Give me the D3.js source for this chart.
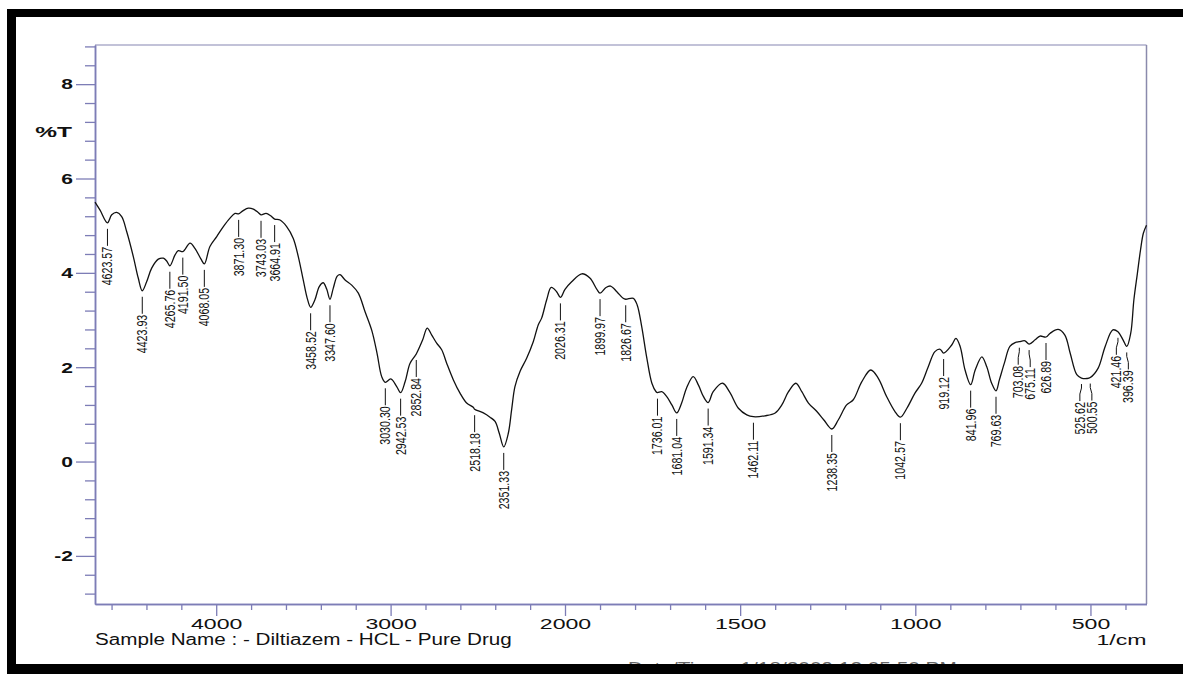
<!DOCTYPE html>
<html>
<head>
<meta charset="utf-8">
<script src="https://cdn.jsdelivr.net/npm/d3@7"></script>
<style>
  html, body { margin: 0; padding: 0; background: #fff; }
  svg { display: block; }
  text { font-family: "Liberation Sans", Arial, Helvetica, sans-serif; }
</style>
</head>
<body>
<svg id="chart" width="1183" height="674"></svg>
<script>
// FTIR spectrum of Diltiazem HCl (pure drug): wavenumber (1/cm) vs %T
const wavenumber = [
  4695, 4666, 4623.57, 4599, 4571, 4542, 4513, 4475, 4447, 4423.93,
  4399, 4370, 4332, 4303, 4284, 4265.76, 4236, 4217, 4191.50, 4150,
  4122, 4087, 4068.05, 4036, 3997, 3959, 3921, 3892, 3871.30, 3845,
  3816, 3787, 3759, 3743.03, 3714, 3688, 3664.91, 3634, 3596, 3558,
  3529, 3501, 3478, 3458.52, 3434, 3409, 3386, 3366, 3347.60, 3329,
  3306, 3290, 3261, 3223, 3185, 3147, 3108, 3078, 3051, 3030.30,
  2999, 2965, 2942.53, 2917, 2889, 2860, 2852.84, 2816, 2790, 2764,
  2736, 2707, 2678, 2640, 2602, 2564, 2526, 2518.18, 2468, 2430,
  2401, 2377, 2351.33, 2325, 2306, 2287, 2258, 2220, 2182, 2153,
  2134, 2105, 2079, 2048, 2026.31, 2000, 1981, 1952, 1929, 1909,
  1899.97, 1883, 1870, 1852, 1834, 1826.67, 1805, 1794, 1781, 1767,
  1752, 1740, 1736.01, 1724, 1710, 1695, 1681.04, 1667, 1653, 1634,
  1619, 1605, 1591.34, 1577, 1550, 1529, 1505, 1481, 1462.11, 1429,
  1400, 1381, 1362, 1341, 1324, 1305, 1281, 1261, 1238.35, 1220,
  1196, 1177, 1153, 1127, 1106, 1082, 1058, 1042.57, 1024, 1001,
  982, 963, 944, 929, 919.12, 896, 884, 872, 858, 841.96,
  829, 810, 796, 782, 769.63, 760, 746, 730, 715, 703.08,
  687, 675.11, 658, 644, 626.89, 615, 592, 573, 558, 539,
  525.62, 510, 500.55, 478, 458, 436, 421.46, 407, 396.39, 385,
  376, 366, 357, 349, 340
];
const transmittance = [
  5.50, 5.33, 5.06, 5.23, 5.28, 5.19, 4.87, 4.34, 3.89, 3.62,
  3.81, 4.10, 4.29, 4.31, 4.25, 4.15, 4.38, 4.47, 4.45, 4.63,
  4.52, 4.29, 4.19, 4.56, 4.77, 4.98, 5.16, 5.26, 5.25, 5.32,
  5.37, 5.35, 5.28, 5.23, 5.26, 5.21, 5.14, 5.12, 4.98, 4.73,
  4.34, 3.85, 3.46, 3.27, 3.43, 3.71, 3.79, 3.65, 3.44, 3.67,
  3.93, 3.96, 3.85, 3.74, 3.57, 3.18, 2.78, 2.30, 1.80, 1.68,
  1.75, 1.59, 1.46, 1.69, 2.08, 2.24, 2.28, 2.58, 2.83, 2.68,
  2.51, 2.37, 2.08, 1.73, 1.45, 1.24, 1.15, 1.11, 1.03, 0.94,
  0.85, 0.60, 0.31, 0.60, 1.10, 1.59, 1.91, 2.19, 2.54, 2.90,
  3.04, 3.43, 3.69, 3.60, 3.48, 3.65, 3.81, 3.98, 3.89, 3.65,
  3.57, 3.69, 3.72, 3.60, 3.46, 3.44, 3.46, 3.32, 2.86, 2.22,
  1.66, 1.48, 1.46, 1.48, 1.38, 1.20, 1.03, 1.24, 1.56, 1.80,
  1.62, 1.38, 1.25, 1.48, 1.66, 1.46, 1.13, 0.99, 0.95, 0.97,
  1.03, 1.20, 1.48, 1.66, 1.48, 1.24, 1.06, 0.88, 0.69, 0.88,
  1.20, 1.31, 1.69, 1.94, 1.77, 1.38, 1.06, 0.94, 1.13, 1.45,
  1.66, 2.01, 2.33, 2.38, 2.30, 2.47, 2.61, 2.44, 1.94, 1.63,
  1.94, 2.22, 2.01, 1.66, 1.50, 1.73, 2.08, 2.44, 2.52, 2.54,
  2.56, 2.49, 2.58, 2.66, 2.64, 2.72, 2.80, 2.68, 2.30, 1.84,
  1.77, 1.76, 1.78, 1.98, 2.44, 2.79, 2.75, 2.58, 2.44, 2.72,
  3.43, 3.99, 4.49, 4.84, 5.01
];

// Annotated peak positions (1/cm)
const peakWavenumbers = [
  4623.57, 4423.93, 4265.76, 4191.50, 4068.05, 3871.30, 3743.03, 3664.91,
  3458.52, 3347.60, 3030.30, 2942.53, 2852.84, 2518.18, 2351.33, 2026.31,
  1899.97, 1826.67, 1736.01, 1681.04, 1591.34, 1462.11, 1238.35, 1042.57,
  919.12, 841.96, 769.63, 703.08, 675.11, 626.89, 525.62, 500.55,
  421.46, 396.39
];

// Axis ticks
const xMajorTicks = [4000, 3000, 2000, 1500, 1000, 500];
const xMinorTicks = [4600, 4400, 4200, 3800, 3600, 3400, 3200, 2800, 2600, 2400, 2200,
                     1900, 1800, 1700, 1600, 1400, 1300, 1200, 1100, 900, 800, 700, 600, 400];
const yMajorTicks = [-2, 0, 2, 4, 6, 8];
const yMinorTicks = [-2.8, -2.4, -1.6, -1.2, -0.8, -0.4, 0.4, 0.8, 1.2, 1.6, 2.4, 2.8, 3.2, 3.6,
                     4.4, 4.8, 5.2, 5.6, 6.4, 6.8, 7.2, 7.6, 8.4, 8.8];

const sampleName = "Sample Name : - Diltiazem - HCL - Pure Drug";
const xUnit = "1/cm";
const yUnit = "%T";
const stampText = "Date/Time : 1/18/2009 12:05:50 PM";

const svg = d3.select("#chart");
const W = 1183, H = 674;
const axisColor = "#7d7db6";
const inkColor = "#111";

// Wavenumber scale: compressed above 2000 1/cm, expanded below
const x = d3.scaleLinear().domain([4695, 2000, 340]).range([95, 565, 1146.5]);
const y = d3.scaleLinear().domain([-3.02, 8.83]).range([604, 45]);

const plotLeft = x.range()[0], plotRight = x.range()[2];
const plotTop = y.range()[1], plotBottom = y.range()[0];

svg.append("rect").attr("width", W).attr("height", H).attr("fill", "#fff");

// widen a text element horizontally by a factor
function stretch(sel, factor) {
  sel.each(function () {
    const len = this.getComputedTextLength();
    d3.select(this).attr("textLength", len * factor).attr("lengthAdjust", "spacingAndGlyphs");
  });
}

// Plot frame
svg.append("line").attr("x1", plotLeft).attr("x2", plotRight).attr("y1", plotTop).attr("y2", plotTop)
  .attr("stroke", "#aeaecb").attr("stroke-width", 1.5);
svg.append("line").attr("x1", plotRight).attr("x2", plotRight).attr("y1", plotTop).attr("y2", plotBottom)
  .attr("stroke", "#8a8aac").attr("stroke-width", 1.5);

// Y axis
const yMinorAxis = d3.axisLeft(y).tickValues(yMinorTicks).tickSize(10).tickFormat("").tickSizeOuter(0);
const yMajorAxis = d3.axisLeft(y).tickValues(yMajorTicks).tickSize(19).tickPadding(3).tickSizeOuter(0)
  .tickFormat(d => String(d));
const gyMinor = svg.append("g").attr("transform", `translate(${plotLeft},0)`).call(yMinorAxis);
const gyMajor = svg.append("g").attr("transform", `translate(${plotLeft},0)`).call(yMajorAxis);
[gyMinor, gyMajor].forEach(g => {
  g.selectAll("line").attr("stroke", axisColor).attr("stroke-width", 1.3);
  g.select(".domain").attr("stroke", axisColor).attr("stroke-width", 1.5);
});
gyMajor.selectAll("text").attr("fill", inkColor).style("font-size", "15px").attr("font-weight", "bold")
  .call(stretch, 1.4);

// X axis
const xMinorAxis = d3.axisBottom(x).tickValues(xMinorTicks).tickSize(6).tickFormat("").tickSizeOuter(0);
const xMajorAxis = d3.axisBottom(x).tickValues(xMajorTicks).tickSize(12).tickPadding(3).tickSizeOuter(0)
  .tickFormat(d => String(d));
const gxMinor = svg.append("g").attr("transform", `translate(0,${plotBottom})`).call(xMinorAxis);
const gxMajor = svg.append("g").attr("transform", `translate(0,${plotBottom})`).call(xMajorAxis);
[gxMinor, gxMajor].forEach(g => {
  g.selectAll("line").attr("stroke", axisColor).attr("stroke-width", 1.3);
  g.select(".domain").attr("stroke", axisColor).attr("stroke-width", 1.5);
});
gxMajor.selectAll("text").attr("fill", inkColor).style("font-size", "14px").call(stretch, 1.65);

// Axis titles
svg.append("text").attr("x", 72).attr("y", 137).attr("text-anchor", "end")
  .attr("fill", inkColor).style("font-size", "14px").attr("font-weight", "bold")
  .text(yUnit).call(stretch, 1.75);
svg.append("text").attr("x", plotRight).attr("y", 645).attr("text-anchor", "end")
  .attr("fill", inkColor).style("font-size", "14px")
  .text(xUnit).call(stretch, 1.65);
svg.append("text").attr("x", 95).attr("y", 645).attr("text-anchor", "start")
  .attr("fill", inkColor).style("font-size", "16px")
  .text(sampleName).call(stretch, 1.29);

// Spectrum trace
const spectrum = wavenumber.map((w, i) => ({ w, t: transmittance[i] }));
const line = d3.line()
  .x(d => x(d.w))
  .y(d => y(d.t))
  .curve(d3.curveCatmullRom.alpha(0.5));
svg.append("path").datum(spectrum)
  .attr("d", line)
  .attr("fill", "none")
  .attr("stroke", "#111")
  .attr("stroke-width", 1.3)
  .attr("stroke-linejoin", "round");

// %T of the trace at a given wavenumber (linear between samples)
function valueAt(w) {
  for (let i = 0; i < spectrum.length - 1; i++) {
    const a = spectrum[i], b = spectrum[i + 1];
    if (w <= a.w && w >= b.w) {
      const f = (a.w - w) / (a.w - b.w);
      return a.t + f * (b.t - a.t);
    }
  }
  return spectrum[spectrum.length - 1].t;
}

// Peak labels: leader below the trace, rotated value underneath
const peaks = peakWavenumbers.map(w => ({ w, px: x(w), lx: x(w), py: y(valueAt(w)) }))
  .sort((a, b) => a.px - b.px);
const minSep = 12;
for (let iter = 0; iter < 10; iter++) {
  for (let i = 0; i < peaks.length - 1; i++) {
    const gap = peaks[i + 1].lx - peaks[i].lx;
    if (gap < minSep) {
      const d = (minSep - gap) / 2;
      peaks[i].lx -= d;
      peaks[i + 1].lx += d;
    }
  }
}

const gPeaks = svg.append("g");
peaks.forEach(p => {
  const y0 = p.py + 6;
  const textTop = y0 + 17;
  let path;
  if (Math.abs(p.lx - p.px) < 0.5) {
    path = `M${p.px},${y0}V${textTop}`;
  } else {
    path = `M${p.px},${y0}V${y0 + 4}L${p.lx},${y0 + 10}V${textTop}`;
  }
  gPeaks.append("path").attr("d", path).attr("fill", "none")
    .attr("stroke", "#111").attr("stroke-width", 1);
  gPeaks.append("text")
    .attr("transform", `translate(${p.lx},${textTop + 1}) rotate(-90)`)
    .attr("text-anchor", "end")
    .attr("dy", "0.35em")
    .attr("fill", "#111")
    .style("font-size", "14px")
    .text(p.w.toFixed(2))
    .call(stretch, 0.76);
});

// Footer stamp (mostly hidden behind the frame)
svg.append("text").attr("x", 628).attr("y", 674)
  .attr("fill", "#666").style("font-size", "16px")
  .text(stampText).call(stretch, 1.3);

// Black border bands
svg.append("rect").attr("x", 7).attr("y", 9).attr("width", W - 7).attr("height", 8).attr("fill", "#000");
svg.append("rect").attr("x", 7).attr("y", 9).attr("width", 9).attr("height", H - 9).attr("fill", "#000");
svg.append("rect").attr("x", 7).attr("y", 664).attr("width", W - 7).attr("height", 10).attr("fill", "#000");
</script>
</body>
</html>
